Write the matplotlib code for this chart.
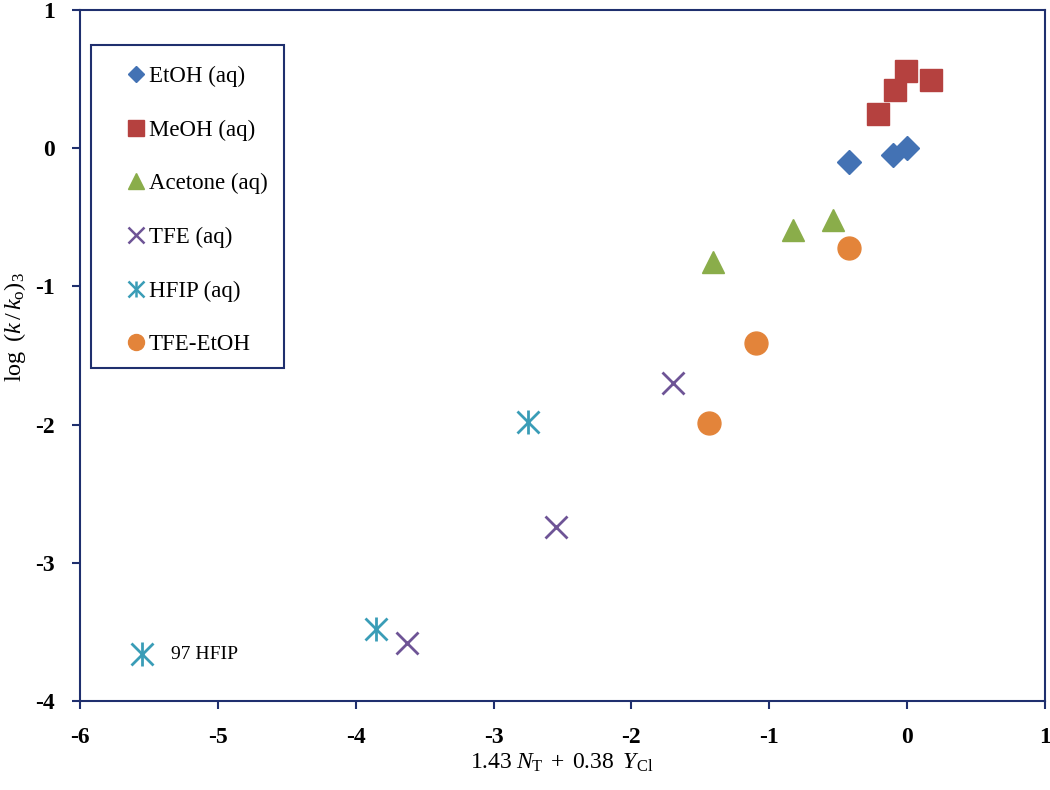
import matplotlib
matplotlib.use("Agg")
import matplotlib.pyplot as plt
from matplotlib.lines import Line2D
from matplotlib.patches import Rectangle

plt.rcParams['font.family'] = ['Liberation Serif', 'DejaVu Serif']
plt.rcParams['mathtext.fontset'] = 'custom'
plt.rcParams['mathtext.rm'] = 'Liberation Serif'
plt.rcParams['mathtext.it'] = 'Liberation Serif:italic'
plt.rcParams['mathtext.bf'] = 'Liberation Serif:bold'

# Data
etoh_x = [-0.42, -0.10, 0.00]
etoh_y = [-0.10, -0.05, 0.00]
meoh_x = [-0.21, -0.09, -0.01, 0.17]
meoh_y = [0.25, 0.42, 0.56, 0.49]
acet_x = [-1.41, -0.83, -0.54]
acet_y = [-0.82, -0.59, -0.52]
tfe_x = [-1.70, -2.55, -3.63]
tfe_y = [-1.70, -2.74, -3.58]
hfip_x = [-2.75, -3.85]
hfip_y = [-1.98, -3.48]
tfeetoh_x = [-0.42, -1.10, -1.44]
tfeetoh_y = [-0.72, -1.41, -1.99]
note_x = [-5.55]
note_y = [-3.66]
note_text = "97 HFIP"

labels = ["EtOH (aq)", "MeOH (aq)", "Acetone (aq)", "TFE (aq)", "HFIP (aq)", "TFE-EtOH"]
xticks = [-6, -5, -4, -3, -2, -1, 0, 1]
yticks = [-4, -3, -2, -1, 0, 1]

c_blue = '#4372B4'
c_red = '#B5413F'
c_green = '#8AAD4A'
c_purple = '#6E5496'
c_aqua = '#3A9DB7'
c_orange = '#E3843A'
c_navy = '#1F2F6E'

fig = plt.figure(figsize=(10.5, 7.9), dpi=100)
ax = fig.add_axes([80/1050, 1 - 701/790, 965/1050, 691/790])

ax.plot(etoh_x, etoh_y, ls='none', marker='D', ms=12, color=c_blue, mec=c_blue)
ax.plot(meoh_x, meoh_y, ls='none', marker='s', ms=16.5, color=c_red, mec=c_red)
ax.plot(acet_x, acet_y, ls='none', marker='^', ms=16, color=c_green, mec=c_green)
ax.plot(tfe_x, tfe_y, ls='none', marker='x', ms=16, mew=2, color=c_purple)
ax.plot(hfip_x, hfip_y, ls='none', marker='x', ms=16, mew=2, color=c_aqua)
ax.plot(hfip_x, hfip_y, ls='none', marker='|', ms=17, mew=2, color=c_aqua)
ax.plot(tfeetoh_x, tfeetoh_y, ls='none', marker='o', ms=16.5, color=c_orange, mec=c_orange)

ax.plot(note_x, note_y, ls='none', marker='x', ms=16, mew=2, color=c_aqua)
ax.plot(note_x, note_y, ls='none', marker='|', ms=17, mew=2, color=c_aqua)
ax.annotate(note_text, (note_x[0], note_y[0]), xytext=(21, 0), textcoords='offset points',
            va='center', ha='left', fontsize=14)

ax.set_xlim(-6, 1)
ax.set_ylim(-4, 1)
ax.set_xticks(xticks)
ax.set_yticks(yticks)
ax.set_xticklabels([str(v) for v in xticks], fontweight='bold', fontsize=17)
ax.set_yticklabels([str(v) for v in yticks], fontweight='bold', fontsize=17)
ax.tick_params(direction='out', length=6, width=1.5, color=c_navy)
ax.tick_params(axis='x', pad=13)
ax.tick_params(axis='y', pad=12)
for s in ax.spines.values():
    s.set_color(c_navy)
    s.set_linewidth(1.5)

ax.set_xlabel(r'$1.43\;N_{\mathrm{T}}\;+\;0.38\;\;Y_{\mathrm{Cl}}$', fontsize=17)
ax.set_ylabel(r'log$\;\;(k\,/\,k_{\mathrm{o}})_3$', fontsize=17.5)
ax.xaxis.set_label_coords(0.4995, -0.074)
ax.yaxis.set_label_coords(-0.054, 0.541)

# legend frame
ax.add_patch(Rectangle((11/965, (701-368)/691), 193/965, 323/691, transform=ax.transAxes,
                       fill=True, facecolor='white', edgecolor=c_navy, lw=1.5, zorder=4))

h = [
    Line2D([], [], ls='none', marker='D', ms=8, color=c_blue),
    Line2D([], [], ls='none', marker='s', ms=11, color=c_red),
    Line2D([], [], ls='none', marker='^', ms=11.5, color=c_green),
    Line2D([], [], ls='none', marker='x', ms=11, mew=1.8, color=c_purple),
    (Line2D([], [], ls='none', marker='x', ms=11, mew=1.8, color=c_aqua),
     Line2D([], [], ls='none', marker='|', ms=12, mew=1.8, color=c_aqua)),
    Line2D([], [], ls='none', marker='o', ms=11.5, color=c_orange),
]
leg = ax.legend(h, labels, loc='center left', bbox_to_anchor=((127-80)/965, (701-210.5)/691),
                fontsize=16.5, labelspacing=1.42, handlelength=0.8, handletextpad=0.15,
                borderpad=0, borderaxespad=0, frameon=False)
leg.set_zorder(5)

fig.savefig('out.png', dpi=100)
